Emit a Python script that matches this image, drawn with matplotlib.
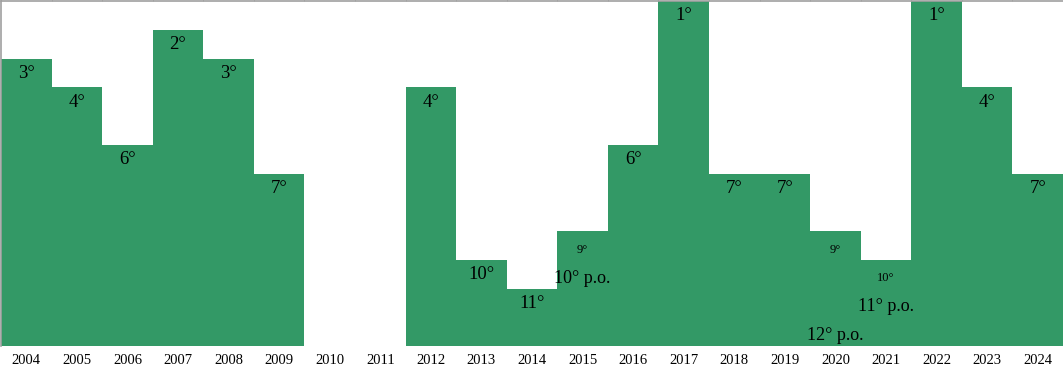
import matplotlib.pyplot as plt
import numpy as np

years = list(range(2004, 2025))
# final league position per season (None = no season)
ranks = [3, 4, 6, 2, 3, 7, None, None, 4, 10, 11, 9, 6, 1, 7, 7, 9, 10, 1, 4, 7]
# play-off finishing position, where there is one
playoff = {2015: 10, 2020: 12, 2021: 11}
small_label_years = [2015, 2020, 2021]

n_ranks = 12
green = '#339966'
grey = '#a0a0a0'

heights = [np.nan if r is None else n_ranks + 1 - r for r in ranks]
x = np.arange(len(years))

fig = plt.figure(figsize=(10.63, 3.72), dpi=100)
ax = fig.add_axes([1 / 1063, 26 / 372, 1062 / 1063, 345 / 372])

ax.bar(x, heights, width=1.0, color=green, linewidth=0)
ax.set_xlim(-0.5, len(years) - 0.5)
ax.set_ylim(0, n_ranks)

font = 'Liberation Serif'
for xi, yr, r, h in zip(x, years, ranks, heights):
    if r is None:
        continue
    if yr in small_label_years:
        ax.annotate(f'{r}°', (xi, h), xytext=(0, -15.5), textcoords='offset points',
                    ha='center', va='baseline', fontsize=9, family=font)
    else:
        ax.annotate(f'{r}°', (xi, h), xytext=(0, -14), textcoords='offset points',
                    ha='center', va='baseline', fontsize=13.5, family=font)
    if yr in playoff:
        p = playoff[yr]
        ax.annotate(f'{p}° p.o.', (xi, n_ranks + 1 - p), xytext=(0, -16.5),
                    textcoords='offset points', ha='center', va='baseline',
                    fontsize=13, family=font)

ax.set_xticks(x)
ax.set_xticklabels([str(y) for y in years], family=font, fontsize=10.5)
ax.set_xticks(np.arange(len(years) + 1) - 0.5, minor=True)
ax.tick_params(axis='x', which='major', length=0, pad=6)
ax.tick_params(axis='x', which='minor', bottom=False, top=True, length=2,
               color=grey, direction='out')
ax.set_yticks([])

for side in ['bottom', 'right']:
    ax.spines[side].set_visible(False)
for side in ['top', 'left']:
    ax.spines[side].set_color(grey)
    ax.spines[side].set_linewidth(1.2)

fig.savefig('out.png', dpi=100)
